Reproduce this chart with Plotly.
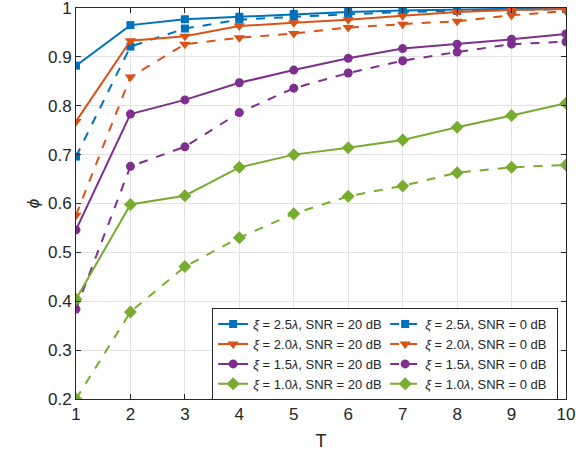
import plotly.graph_objects as go

T = list(range(1, 11))

# phi values
phi_25_20 = [0.882, 0.965, 0.977, 0.982, 0.988, 0.992, 0.995, 0.997, 0.999, 1.0]
phi_25_0 = [0.696, 0.921, 0.958, 0.976, 0.982, 0.987, 0.992, 0.994, 0.996, 0.998]
phi_20_20 = [0.768, 0.933, 0.942, 0.963, 0.970, 0.976, 0.984, 0.992, 0.996, 0.998]
phi_20_0 = [0.576, 0.859, 0.926, 0.939, 0.948, 0.960, 0.967, 0.973, 0.985, 0.994]
phi_15_20 = [0.546, 0.783, 0.812, 0.847, 0.873, 0.897, 0.917, 0.926, 0.936, 0.947]
phi_15_0 = [0.384, 0.676, 0.716, 0.786, 0.836, 0.867, 0.892, 0.910, 0.926, 0.931]
phi_10_20 = [0.404, 0.598, 0.616, 0.674, 0.700, 0.714, 0.730, 0.756, 0.780, 0.805]
phi_10_0 = [0.200, 0.378, 0.471, 0.530, 0.579, 0.615, 0.636, 0.663, 0.674, 0.679]

xi_labels = ["2.5", "2.0", "1.5", "1.0"]
colors = ["#0072BD", "#D95319", "#7E2F8E", "#77AC30"]
symbols = ["square", "triangle-down", "circle", "diamond"]
sizes = [8, 10, 9, 10]

series = [(phi_25_20, phi_25_0), (phi_20_20, phi_20_0),
          (phi_15_20, phi_15_0), (phi_10_20, phi_10_0)]

fig = go.Figure()
for i, (s20, s0) in enumerate(series):
    for vals, snr, dash in [(s20, "20", "solid"), (s0, "0", "dash")]:
        fig.add_trace(go.Scatter(
            x=T, y=vals, mode="lines+markers",
            name=f"<i>ξ</i> = {xi_labels[i]}<i>λ</i>, SNR = {snr} dB",
            line=dict(color=colors[i], width=2, dash=dash),
            marker=dict(symbol=symbols[i], size=sizes[i], color=colors[i]),
        ))

axis_style = dict(
    showline=True, linecolor="#262626", linewidth=1, mirror="allticks",
    ticks="inside", ticklen=5, tickcolor="#262626",
    showgrid=True, gridcolor="#E3E3E3", gridwidth=1, zeroline=False,
    tickfont=dict(family="Liberation Sans, Arial", size=17, color="#262626"),
    ticklabeloverflow="allow", automargin=False,
)

fig.update_layout(
    width=576, height=472,
    margin=dict(l=76, r=10, t=8, b=73),
    paper_bgcolor="white", plot_bgcolor="white",
    font=dict(family="Liberation Sans, Arial", color="#262626"),
    legend=dict(
        x=0.984, y=-0.003, xanchor="right", yanchor="bottom",
        orientation="h", entrywidth=127, entrywidthmode="pixels",
        bordercolor="#262626", borderwidth=1, bgcolor="white",
        font=dict(size=13, color="#262626"), itemwidth=30,
        tracegroupgap=0,
    ),
)
fig.update_xaxes(axis_style, range=[1, 10], dtick=1,
                 title=dict(text="T", font=dict(size=18), standoff=10))
fig.update_yaxes(axis_style, range=[0.2, 1], dtick=0.1,
                 title=dict(text="<i>ϕ</i>", font=dict(size=17), standoff=4))

# drop the default body margin so the figure sits at the window corner
fig.write_html("out.html", config={"displayModeBar": False},
               post_script="document.body.style.margin = '0';")
